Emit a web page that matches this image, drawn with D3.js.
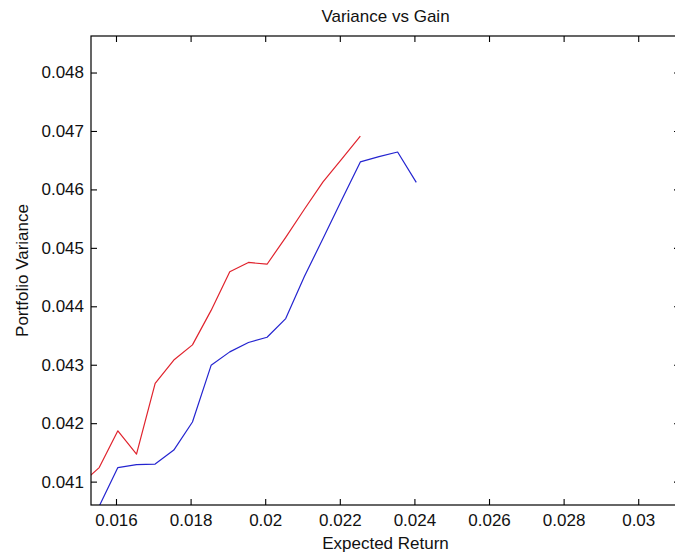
<!DOCTYPE html>
<html>
<head>
<meta charset="utf-8">
<script src="https://cdn.jsdelivr.net/npm/d3@7/dist/d3.min.js"></script>
<style>
  html, body { margin: 0; padding: 0; background: #fff; }
  svg { display: block; }
  text { font-family: "Liberation Sans", Arial, Helvetica, sans-serif; fill: #111; }
</style>
</head>
<body>
<svg id="chart" width="675" height="554"></svg>
<script>
// Expected return grid shared by both frontiers
const returns = [0.01505, 0.01555, 0.01605, 0.01655, 0.01705, 0.01755, 0.01805, 0.01855,
                 0.01905, 0.01955, 0.02005, 0.02055, 0.02105, 0.02155, 0.02205, 0.02255,
                 0.02305, 0.02355, 0.02405];
// Portfolio variance for each frontier (null = no portfolio at that return)
const varianceRed  = [0.04095, 0.04124, 0.04187, 0.04147, 0.04268, 0.04308, 0.04334, 0.04393,
                      0.04459, 0.04475, 0.04472, 0.04518, 0.04566, 0.04613, 0.04652, 0.04691,
                      null, null, null];
const varianceBlue = [null, 0.04058, 0.04124, 0.04129, 0.04130, 0.04154, 0.04202, 0.04299,
                      0.04322, 0.04338, 0.04347, 0.04379, 0.04451, 0.04516, 0.04582, 0.04647,
                      0.04656, 0.04664, 0.04612];
const xTicks = [0.016, 0.018, 0.020, 0.022, 0.024, 0.026, 0.028, 0.030];
const xTickLabels = ["0.016", "0.018", "0.02", "0.022", "0.024", "0.026", "0.028", "0.03"];
const yTicks = [0.041, 0.042, 0.043, 0.044, 0.045, 0.046, 0.047, 0.048];
const yTickLabels = ["0.041", "0.042", "0.043", "0.044", "0.045", "0.046", "0.047", "0.048"];

const svg = d3.select("#chart");
const L = 91, R = 680, T = 36, B = 505;
const fontSize = 17;

const x = d3.scaleLinear().domain([0.01533, 0.03112]).range([L, R]);
const y = d3.scaleLinear().domain([0.04060, 0.048625]).range([B, T]);

svg.append("defs").append("clipPath").attr("id", "plot-clip")
  .append("rect").attr("x", L).attr("y", T).attr("width", R - L).attr("height", B - T);

// Series lines
const series = [
  { values: varianceRed,  color: "#e0232d" },
  { values: varianceBlue, color: "#2424d0" }
];
const line = d3.line()
  .defined(d => d[1] != null)
  .x(d => x(d[0]))
  .y(d => y(d[1]));

const plot = svg.append("g").attr("clip-path", "url(#plot-clip)");
series.forEach(s => {
  plot.append("path")
    .datum(returns.map((r, i) => [r, s.values[i]]))
    .attr("fill", "none")
    .attr("stroke", s.color)
    .attr("stroke-width", 1.2)
    .attr("stroke-linejoin", "round")
    .attr("d", line);
});

// Axes with inward ticks on all four sides
const tickLen = 6;
function styleAxis(g) {
  g.select(".domain").remove();
  g.selectAll(".tick line").attr("stroke", "#000").attr("stroke-width", 1.1);
  g.selectAll(".tick text").style("font-size", fontSize + "px").attr("fill", "#111");
}
svg.append("g").attr("transform", `translate(0,${B})`)
  .call(d3.axisBottom(x).tickValues(xTicks).tickFormat((d, i) => xTickLabels[i])
        .tickSizeInner(-tickLen).tickSizeOuter(0).tickPadding(9))
  .call(styleAxis);
svg.append("g").attr("transform", `translate(0,${T})`)
  .call(d3.axisTop(x).tickValues(xTicks).tickFormat("")
        .tickSizeInner(-tickLen).tickSizeOuter(0))
  .call(styleAxis);
svg.append("g").attr("transform", `translate(${L},0)`)
  .call(d3.axisLeft(y).tickValues(yTicks).tickFormat((d, i) => yTickLabels[i])
        .tickSizeInner(-tickLen).tickSizeOuter(0).tickPadding(7))
  .call(styleAxis);
svg.append("g").attr("transform", `translate(${R},0)`)
  .call(d3.axisRight(y).tickValues(yTicks).tickFormat("")
        .tickSizeInner(-tickLen).tickSizeOuter(0))
  .call(styleAxis);

// Axes box
svg.append("rect")
  .attr("x", L).attr("y", T).attr("width", R - L).attr("height", B - T)
  .attr("fill", "none").attr("stroke", "#000").attr("stroke-width", 1.2);

// Title and axis labels
const cx = (L + R) / 2;
svg.append("text").attr("x", cx).attr("y", 22).attr("text-anchor", "middle")
  .style("font-size", fontSize + "px").text("Variance vs Gain");
svg.append("text").attr("x", cx).attr("y", 549).attr("text-anchor", "middle")
  .style("font-size", fontSize + "px").text("Expected Return");
svg.append("text")
  .attr("transform", `translate(27.5,${(T + B) / 2}) rotate(-90)`)
  .attr("text-anchor", "middle")
  .style("font-size", fontSize + "px").text("Portfolio Variance");
</script>
</body>
</html>
